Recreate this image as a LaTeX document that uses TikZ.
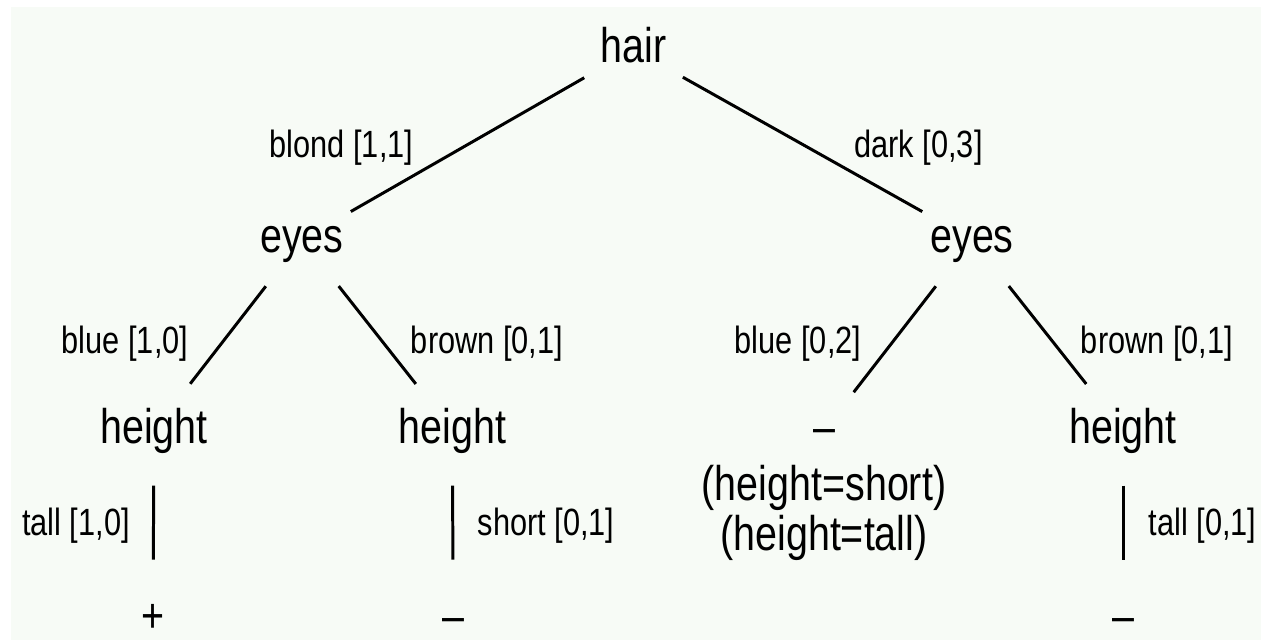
\documentclass[tikz,border=0pt]{standalone}
\usepackage{fontspec}
\setmainfont{Liberation Sans}[FakeStretch=0.81]
\usetikzlibrary{positioning}
\definecolor{paper}{HTML}{F7FBF6}

\begin{document}
\begin{tikzpicture}[
    attr/.style={inner sep=0pt, anchor=base, font=\fontsize{27.7}{33}\selectfont, text height=20pt, text depth=5.8pt},
    lab/.style={inner sep=0pt, anchor=base, font=\fontsize{21.6}{26}\selectfont},
    upper/.style={line width=1.7pt, shorten <=0.37cm, shorten >=0.2cm},
    lower/.style={line width=1.7pt, shorten <=0.6cm, shorten >=0.6cm},
    stem/.style={line width=1.7pt, shorten <=0.64cm, shorten >=0.74cm}]
  \useasboundingbox (0,0) rectangle (25.22,-12.84);
  \fill[paper] (0.22,-0.14) rectangle (25.22,-12.8);
  % tree nodes
  \node[attr] (hair) at (12.67,-1.24) {hair};
  \node[attr] (eyesL) at (6.04,-5.04) {eyes};
  \node[attr] (eyesR) at (19.44,-5.04) {eyes};
  \node[attr] (htL) at (3.08,-8.86) {height};
  \node[attr] (htM) at (9.05,-8.86) {height};
  \node[attr] (noneR) at (16.48,-8.86) {--};
  \node[attr] (htR) at (22.46,-8.86) {height};
  \node[attr] (altS) at (16.48,-10.0) {(height=short)};
  \node[attr] (altT) at (16.48,-11.0) {(height=tall)};
  \node[attr] (leafL) at (3.06,-12.64) {+};
  \node[attr] (leafM) at (9.06,-12.64) {--};
  \node[attr] (leafR) at (22.46,-12.64) {--};
  % branches
  \draw[upper] (hair) -- (eyesL);
  \draw[upper] (hair) -- (eyesR);
  \draw[lower] (eyesL) -- (htL);
  \draw[lower] (eyesL) -- (htM);
  \draw[lower] (eyesR) -- (noneR);
  \draw[lower] (eyesR) -- (htR);
  \draw[stem] (htL) -- (leafL);
  \draw[stem] (htM) -- (leafM);
  \draw[stem] (htR) -- (leafR);
  % branch labels
  \node[lab] (lblond) at (6.83,-3.14) {blond [1,1]};
  \node[lab] (ldark) at (18.37,-3.14) {dark [0,3]};
  \node[lab] (lblueL) at (2.5,-7.06) {blue [1,0]};
  \node[lab] (lbrownL) at (9.74,-7.06) {brown [0,1]};
  \node[lab] (lblueR) at (15.96,-7.06) {blue [0,2]};
  \node[lab] (lbrownR) at (23.14,-7.06) {brown [0,1]};
  \node[lab] (ltallL) at (1.52,-10.7) {tall [1,0]};
  \node[lab] (lshort) at (10.92,-10.7) {short [0,1]};
  \node[lab] (ltallR) at (24.05,-10.7) {tall [0,1]};
\end{tikzpicture}
\end{document}
